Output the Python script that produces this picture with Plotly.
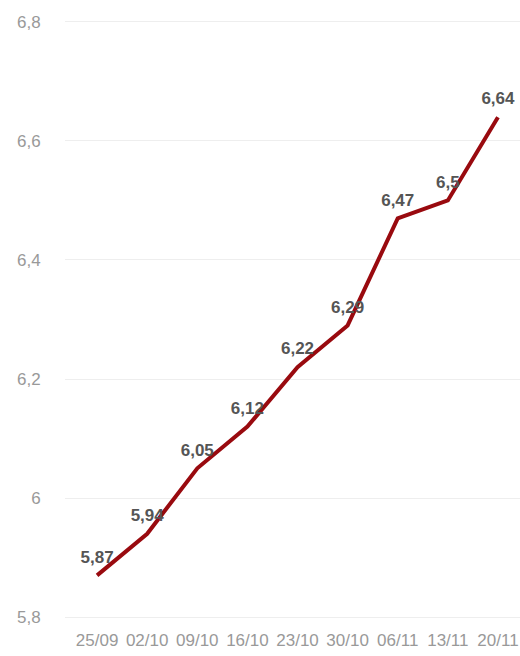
import plotly.graph_objects as go

dates = ["25/09", "02/10", "09/10", "16/10", "23/10", "30/10", "06/11", "13/11", "20/11"]
values = [5.87, 5.94, 6.05, 6.12, 6.22, 6.29, 6.47, 6.5, 6.64]
y_ticks = [5.8, 6.0, 6.2, 6.4, 6.6, 6.8]
y_tick_labels = ["5,8", "6", "6,2", "6,4", "6,6", "6,8"]

labels = [f"{v:g}".replace(".", ",") for v in values]

fig = go.Figure()
fig.add_trace(go.Scatter(
    x=dates, y=values, mode="lines+markers+text",
    line=dict(color="#990a0f", width=4),
    marker=dict(size=12, color="rgba(0,0,0,0)"),
    text=labels, textposition="top center",
    textfont=dict(family="Liberation Sans, Arial", size=17, color="#555555", weight="bold"),
    hoverinfo="skip", cliponaxis=False,
))

fig.update_layout(
    width=520, height=656,
    margin=dict(l=65, r=0, t=16, b=33),
    plot_bgcolor="white", paper_bgcolor="white",
    showlegend=False,
    separators=",.",
    xaxis=dict(
        type="category", range=[-0.64, 8.44],
        showgrid=False, zeroline=False, showline=False,
        tickangle=0, ticks="outside", ticklen=2, tickcolor="rgba(0,0,0,0)",
        tickfont=dict(family="Liberation Sans, Arial", size=17, color="#999999"),
    ),
    yaxis=dict(
        range=[5.79, 6.81],
        tickvals=y_ticks, ticktext=y_tick_labels,
        showgrid=True, gridcolor="#eeeeee", gridwidth=1,
        zeroline=False, showline=False,
        ticks="outside", ticklen=20, tickcolor="rgba(0,0,0,0)",
        tickfont=dict(family="Liberation Sans, Arial", size=17, color="#999999"),
    ),
)

fig.write_html("out.html")
